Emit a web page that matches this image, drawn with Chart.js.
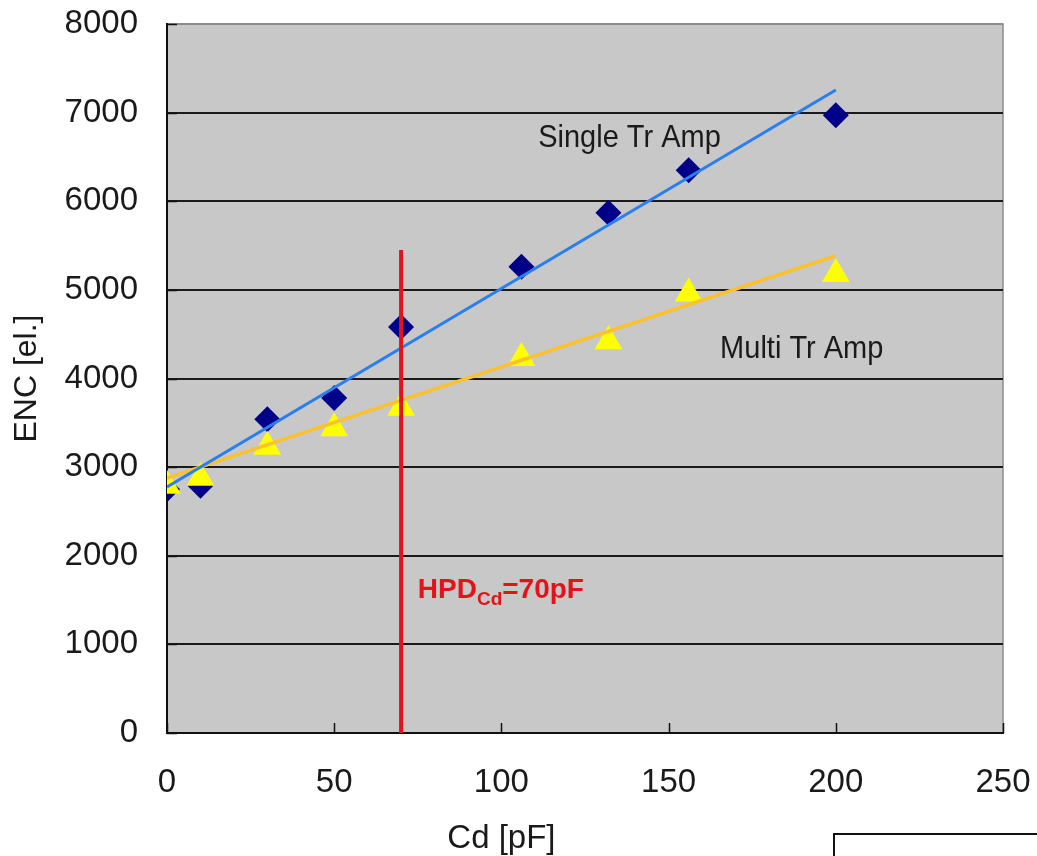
<!DOCTYPE html>
<html>
<head>
<meta charset="utf-8">
<script src="https://cdn.jsdelivr.net/npm/chart.js@4.4.0/dist/chart.umd.min.js"></script>
<style>
  body { margin: 0; background: #fff; }
  #wrap { position: relative; width: 1037px; height: 856px; overflow: hidden; }
  #corner { position: absolute; left: 833px; top: 833px; width: 260px; height: 60px;
            border-left: 2px solid #111; border-top: 2px solid #111; background: #fff; }
</style>
</head>
<body>
<div id="wrap">
  <canvas id="encChart" width="1037" height="856"></canvas>
  <div id="corner"></div>
</div>
<script>
// Cd values (pF) and measured ENC (electrons)
const cdValues = [0, 10, 30, 50, 70, 106, 132, 156, 200];
const encSingle = [2750, 2790, 3540, 3780, 4580, 5260, 5870, 6350, 6970];
const encMulti = [2790, 2880, 3230, 3440, 3670, 4230, 4420, 4960, 5180];

// linear trend lines (end points)
const fitX = [0, 200];
const fitSingle = [2776, 7255];
const fitMulti = [2877, 5385];

// HPD capacitance marker
const hpdX = [70, 70];
const hpdY = [0, 5450];

const xTicks = [0, 50, 100, 150, 200, 250];
const yTicks = [0, 1000, 2000, 3000, 4000, 5000, 6000, 7000, 8000];

// text labels inside the plot (data coordinates)
const noteText = ['Single Tr Amp', 'Multi Tr Amp'];
const noteX = [111, 165.4];
const noteY = [6610, 4230];
const hpdLabel = ['HPD', 'Cd', '=70pF'];
const hpdLabelAt = [75, 1523];

const toPoints = (xs, ys) => xs.map((x, i) => ({ x: x, y: ys[i] }));

const FONT = '"Liberation Sans", Arial, sans-serif';
const RED = '#e3131b';

// no extra room for label overhang, the layout padding sets the plot box
const noOverhang = s => {
  s.paddingTop = 0;
  s.paddingBottom = 0;
  s.paddingLeft = 0;
  s.paddingRight = 0;
};

// gray plot background, top/right frame, inner tick marks and labels
const plotBack = {
  id: 'plotBack',
  beforeDraw(chart) {
    const { ctx, chartArea: a } = chart;
    ctx.save();
    ctx.fillStyle = '#c8c8c8';
    ctx.fillRect(a.left, a.top, a.right - a.left, a.bottom - a.top);
    ctx.strokeStyle = '#8c8c8c';
    ctx.lineWidth = 1.5;
    ctx.beginPath();
    ctx.moveTo(a.left, a.top);
    ctx.lineTo(a.right, a.top);
    ctx.lineTo(a.right, a.bottom);
    ctx.stroke();
    ctx.restore();
  },
  beforeDatasetsDraw(chart) {
    const { ctx, chartArea: a, scales } = chart;
    ctx.save();
    ctx.strokeStyle = '#111';
    ctx.lineWidth = 1.5;
    ctx.beginPath();
    xTicks.forEach(v => {
      const px = Math.round(scales.x.getPixelForValue(v)) + 0.5;
      ctx.moveTo(px, a.bottom);
      ctx.lineTo(px, a.bottom - 10);
    });
    yTicks.forEach(v => {
      const py = Math.round(scales.y.getPixelForValue(v)) + 0.5;
      ctx.moveTo(a.left, py);
      ctx.lineTo(a.left + 10, py);
    });
    ctx.stroke();
    ctx.restore();
  },
  afterDatasetsDraw(chart) {
    const { ctx, chartArea: a, scales } = chart;
    ctx.save();
    ctx.textBaseline = 'alphabetic';
    ctx.textAlign = 'left';
    ctx.fillStyle = '#1a1a1a';
    ctx.font = '29px ' + FONT;
    noteText.forEach((t, i) => {
      const px = scales.x.getPixelForValue(noteX[i]);
      const py = scales.y.getPixelForValue(noteY[i]);
      ctx.save();
      ctx.translate(px, py);
      ctx.scale(1, 1.08);
      ctx.fillText(t, 0, 0);
      ctx.restore();
    });

    // HPD_Cd=70pF with subscript
    let hx = scales.x.getPixelForValue(hpdLabelAt[0]);
    const hy = scales.y.getPixelForValue(hpdLabelAt[1]);
    ctx.fillStyle = RED;
    ctx.font = 'bold 28px ' + FONT;
    ctx.fillText(hpdLabel[0], hx, hy);
    hx += ctx.measureText(hpdLabel[0]).width;
    ctx.font = 'bold 19px ' + FONT;
    ctx.fillText(hpdLabel[1], hx, hy + 7);
    hx += ctx.measureText(hpdLabel[1]).width;
    ctx.font = 'bold 28px ' + FONT;
    ctx.fillText(hpdLabel[2], hx, hy);

    // x axis title
    ctx.fillStyle = '#1a1a1a';
    ctx.font = '33px ' + FONT;
    ctx.textAlign = 'center';
    ctx.fillText('Cd [pF]', a.left + (a.right - a.left) * 0.4, 848);
    ctx.restore();
  }
};

const ctx = document.getElementById('encChart').getContext('2d');
new Chart(ctx, {
  type: 'scatter',
  data: {
    datasets: [
      {
        label: 'HPD',
        data: toPoints(hpdX, hpdY),
        showLine: true,
        borderColor: RED,
        borderWidth: 4,
        pointRadius: 0
      },
      {
        label: 'Single fit',
        data: toPoints(fitX, fitSingle),
        showLine: true,
        borderColor: '#2a7fef',
        borderWidth: 3,
        pointRadius: 0
      },
      {
        label: 'Multi fit',
        data: toPoints(fitX, fitMulti),
        showLine: true,
        borderColor: '#f9c22e',
        borderWidth: 3.5,
        pointRadius: 0
      },
      {
        label: 'Multi Tr Amp',
        data: toPoints(cdValues, encMulti),
        pointStyle: 'triangle',
        pointRadius: 16,
        backgroundColor: '#ffff00',
        borderColor: '#ffff00',
        borderWidth: 0
      },
      {
        label: 'Single Tr Amp',
        data: toPoints(cdValues, encSingle),
        pointStyle: 'rectRot',
        pointRadius: 13,
        backgroundColor: '#000088',
        borderColor: '#000088',
        borderWidth: 0
      }
    ]
  },
  options: {
    responsive: false,
    animation: false,
    events: [],
    layout: { padding: { top: 24, right: 34, left: 0, bottom: 0 } },
    plugins: {
      legend: { display: false },
      tooltip: { enabled: false }
    },
    scales: {
      x: {
        type: 'linear',
        min: 0,
        max: 250,
        afterFit: s => { s.height = 123; noOverhang(s); },
        afterBuildTicks: s => { s.ticks = xTicks.map(v => ({ value: v })); },
        grid: { display: false },
        border: { display: true, color: '#111', width: 2 },
        ticks: {
          padding: 22,
          color: '#1a1a1a',
          maxRotation: 0,
          font: { family: FONT, size: 33 },
          callback: v => String(v)
        }
      },
      y: {
        type: 'linear',
        min: 0,
        max: 8000,
        afterFit: s => { s.width = 167; noOverhang(s); },
        afterBuildTicks: s => { s.ticks = yTicks.map(v => ({ value: v })); },
        grid: {
          drawTicks: false,
          lineWidth: 2,
          color: c => (c.tick && c.tick.value === 8000 ? '#8c8c8c' : '#1a1a1a')
        },
        border: { display: true, color: '#111', width: 2 },
        title: {
          display: true,
          text: 'ENC [el.]',
          color: '#1a1a1a',
          font: { family: FONT, size: 32 },
          padding: { top: 8, bottom: 0 }
        },
        ticks: {
          padding: 29,
          color: '#1a1a1a',
          font: { family: FONT, size: 33 },
          callback: v => String(v)
        }
      }
    }
  },
  plugins: [plotBack]
});
</script>
</body>
</html>
